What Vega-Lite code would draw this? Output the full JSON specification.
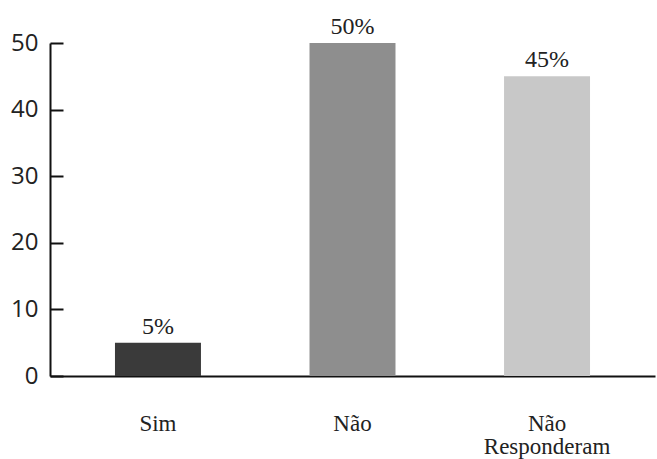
{
  "$schema": "https://vega.github.io/schema/vega-lite/v6.json",
  "width": 605,
  "height": 333,
  "autosize": {"type": "none"},
  "padding": {"left": 50, "top": 43, "right": 2, "bottom": 83},
  "background": "white",
  "config": {"view": {"stroke": null}, "text": {"font": "Liberation Serif"}},
  "data": {"values": [
    {"resposta": "Sim", "valor": 5, "rotulo": "5%"},
    {"resposta": "Não", "valor": 50, "rotulo": "50%"},
    {"resposta": "Não Responderam", "valor": 45, "rotulo": "45%"}
  ]},
  "encoding": {
    "x": {"field": "resposta", "type": "nominal", "sort": null,
      "scale": {"paddingInner": 0.558, "paddingOuter": 0.334},
      "axis": {"title": null, "ticks": false, "labelAngle": 0, "labelFont": "Liberation Serif", "labelFontSize": 23, "labelColor": "#222", "labelPadding": 36, "labelLineHeight": 23,
        "labelExpr": "datum.value == 'Não Responderam' ? ['Não', 'Responderam'] : datum.value",
        "domainColor": "#111", "domainWidth": 2}},
    "y": {"field": "valor", "type": "quantitative",
      "scale": {"domain": [0, 50], "nice": false},
      "axis": {"title": null, "values": [0, 10, 20, 30, 40, 50], "grid": false, "tickSize": -13, "tickWidth": 2, "tickColor": "#111", "labelPadding": 25, "labelFont": "Open Sans", "labelFontSize": 24, "labelColor": "#222", "domainColor": "#111", "domainWidth": 2}}
  },
  "layer": [
    {"mark": {"type": "bar"},
     "encoding": {"color": {"field": "resposta", "type": "nominal", "legend": null,
       "scale": {"domain": ["Sim", "Não", "Não Responderam"], "range": ["#3a3a3a", "#8e8e8e", "#c8c8c8"]}}}},
    {"mark": {"type": "text", "dy": -9, "baseline": "alphabetic", "font": "Liberation Serif", "fontSize": 24, "color": "#222"},
     "encoding": {"text": {"field": "rotulo"}}}
  ]
}
